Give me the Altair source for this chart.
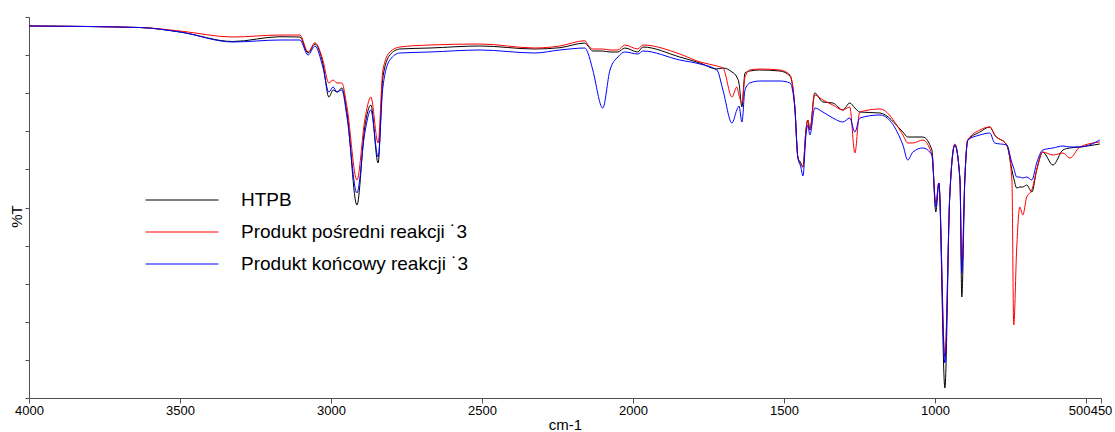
import altair as alt
import pandas as pd

wavenumber = [
    4000, 3632, 3500, 3325, 3169, 3103, 3076, 3053, 3027, 3007,
    2993, 2980, 2964, 2947, 2914, 2888, 2868, 2844, 2828, 2805,
    2772, 2672, 2507, 2325, 2242, 2159, 2149, 2133, 2100, 2076,
    2050, 2027, 1984, 1967, 1845, 1778, 1722, 1702, 1672, 1656,
    1649, 1639, 1629, 1613, 1580, 1513, 1480, 1464, 1454, 1444,
    1437, 1427, 1421, 1414, 1398, 1371, 1338, 1305, 1282, 1265,
    1249, 1182, 1106, 1090, 1073, 1040, 1010, 997, 987, 967,
    951, 934, 917, 911, 901, 891, 851, 818, 802, 762,
    745, 739, 729, 719, 709, 696, 679, 663, 643, 609,
    576, 553, 520, 454,
]

htpb = [
    97.64, 97.24, 96.06, 93.57, 94.83, 94.75, 90.55, 92.91, 87.92, 79.0,
    80.84, 80.31, 81.36, 74.80, 50.65, 71.13, 76.90, 61.68, 84.25, 90.02,
    91.60, 91.86, 92.39, 91.60, 91.94, 93.17, 92.39, 91.07, 91.07, 90.81,
    90.81, 91.86, 90.81, 92.12, 89.50, 87.92, 86.35, 86.61, 85.56, 84.25,
    82.68, 76.38, 85.30, 85.82, 86.09, 85.82, 84.51, 76.38, 63.25, 61.68,
    60.63, 70.34, 72.96, 70.34, 80.05, 77.69, 77.43, 75.59, 77.43, 76.11,
    75.06, 74.80, 69.81, 68.50, 68.50, 68.50, 65.09, 48.82, 56.43, 2.62,
    52.75, 66.40, 57.22, 26.51, 57.22, 67.71, 69.81, 71.13, 69.03, 66.40,
    59.84, 57.74, 55.11, 55.38, 55.38, 55.90, 54.07, 59.84, 64.56, 61.15,
    65.09, 65.62, 65.88, 66.66,
]

posredni = [
    97.64, 97.24, 96.32, 94.75, 95.27, 95.27, 90.81, 93.25, 88.71, 82.68,
    83.46, 82.68, 82.68, 76.38, 57.22, 72.96, 79.0, 66.93, 86.09, 90.81,
    92.12, 92.65, 92.91, 91.86, 92.39, 93.78, 92.65, 91.60, 91.60, 91.34,
    91.34, 92.65, 91.60, 92.65, 90.29, 88.19, 87.14, 86.61, 79.0, 81.63,
    79.53, 77.43, 84.25, 86.09, 86.35, 86.09, 84.78, 76.38, 63.25, 61.15,
    60.63, 70.34, 72.96, 70.34, 79.53, 78.21, 76.90, 75.59, 76.38, 64.30,
    75.06, 75.85, 69.03, 66.93, 66.93, 67.71, 63.78, 51.18, 56.43, 10.76,
    52.75, 66.66, 57.22, 33.59, 57.22, 67.71, 70.34, 71.13, 69.03, 66.40,
    57.22, 19.16, 39.63, 50.13, 48.03, 52.75, 54.59, 59.84, 64.56, 63.78,
    64.30, 62.99, 65.88, 67.19,
]

koncowy = [
    97.64, 97.24, 96.06, 93.44, 93.96, 93.96, 90.02, 92.39, 86.87, 80.31,
    81.63, 80.31, 80.84, 73.75, 53.80, 69.55, 75.59, 63.25, 81.63, 88.71,
    90.55, 90.81, 91.34, 90.55, 91.34, 91.86, 90.55, 86.09, 76.11, 86.09,
    89.50, 90.81, 90.29, 91.07, 88.71, 87.66, 86.09, 80.84, 72.18, 75.59,
    76.64, 72.44, 80.84, 82.68, 83.20, 83.20, 82.68, 76.38, 63.25, 60.63,
    58.27, 69.03, 71.65, 69.03, 76.11, 75.06, 73.49, 72.44, 73.49, 69.81,
    73.49, 74.28, 66.40, 62.46, 64.56, 65.62, 63.78, 50.13, 56.43, 9.18,
    52.75, 66.40, 57.22, 32.81, 57.22, 67.71, 69.03, 69.55, 66.93, 66.40,
    61.68, 60.37, 58.0, 58.0, 57.74, 58.0, 57.22, 61.68, 65.09, 65.62,
    66.14, 65.88, 65.88, 67.71,
]

series_names = ["HTPB", "Produkt pośredni reakcji \u02d93", "Produkt końcowy reakcji \u02d93"]
series_colors = ["#000000", "#ff0000", "#0000ff"]
x_tick_values = [4000, 3500, 3000, 2500, 2000, 1500, 1000, 500, 450]
y_tick_values = [0, 10, 20, 30, 40, 50, 60, 70, 80, 90, 100]

rows = []
for order, (name, vals) in enumerate(zip(series_names, [htpb, posredni, koncowy])):
    for w, t in zip(wavenumber, vals):
        rows.append({"wn": w, "T": t, "series": name, "ord": order})
df = pd.DataFrame(rows)

FONT = "Liberation Sans"

chart = alt.Chart(df).mark_line(strokeWidth=1, interpolate="monotone").encode(
    x=alt.X(
        "wn:Q",
        scale=alt.Scale(domain=[450, 4000], reverse=True, nice=False, zero=False),
        axis=alt.Axis(
            values=x_tick_values, title="cm-1", grid=False, tickSize=5, format="d",
            labelPadding=1, labelFlush=False, labelOverlap=False,
            labelAlign={"condition": {"test": "datum.value == 500", "value": "right"}, "value": "center"},
            labelOffset={"condition": {"test": "datum.value == 500", "value": 4}, "value": 0},
            titlePadding=0,
        ),
    ),
    y=alt.Y(
        "T:Q",
        scale=alt.Scale(domain=[0, 100], nice=False, zero=False),
        axis=alt.Axis(values=y_tick_values, labels=False, title="%T", grid=False,
                      tickSize=4, titlePadding=0, titleY=199),
    ),
    color=alt.Color(
        "series:N",
        scale=alt.Scale(domain=series_names, range=series_colors),
        legend=alt.Legend(
            orient="none", legendX=116, legendY=167, title=None,
            symbolType="stroke", symbolSize=5329, symbolStrokeWidth=1,
            clipHeight=32, rowPadding=0, padding=0,
            labelFont=FONT, labelFontSize=19, labelOffset=22, labelLimit=500,
            labelColor="#000000",
        ),
    ),
    order=alt.Order("ord:Q"),
).properties(
    width=1072, height=381,
    autosize=alt.AutoSizeParams(type="none"),
    padding={"left": 29, "top": 17, "right": 14, "bottom": 34},
    background="#ffffff",
).configure_view(
    strokeWidth=0
).configure_axis(
    domainColor="#505050", tickColor="#505050", labelColor="#000000",
    labelFont=FONT, labelFontSize=13, titleFont=FONT, titleFontSize=15,
    titleFontWeight="normal", titleColor="#000000",
)

chart.save("out.html", embed_options={"renderer": "svg", "actions": False})
